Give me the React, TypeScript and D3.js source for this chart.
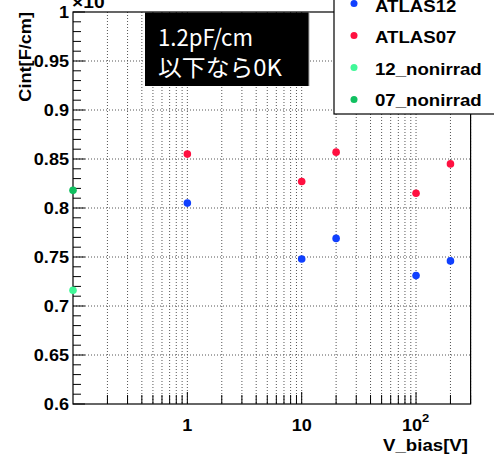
import React from "react";
import * as d3 from "d3";

const voltages = [1, 10, 20, 100, 200];
const atlas12 = [0.805, 0.748, 0.769, 0.731, 0.746];
const atlas07 = [0.855, 0.827, 0.857, 0.815, 0.845];
const nonirradV = [0.1];
const nonirrad12 = [0.716];
const nonirrad07 = [0.818];

const seriesNames = ["ATLAS12", "ATLAS07", "12_nonirrad", "07_nonirrad"];
const seriesColors = ["#1040ff", "#ff1040", "#40f898", "#10c060"];
const yTickLabels = ["0.6", "0.65", "0.7", "0.75", "0.8", "0.85", "0.9", "0.95", "1"];

const W = 494, H = 455;
const L = 73, R = 470.6, T = 12, B = 404;

const bold = { fontFamily: "Liberation Sans, Arial, sans-serif", fontWeight: 700 } as const;

function BT(props: { x: number; y: number; size: number; anchor?: string; fill?: string; children: React.ReactNode; sx?: number }) {
  const { x, y, size, anchor = "start", fill = "#000", children, sx = 1.13 } = props;
  return (
    <text transform={`translate(${x},${y}) scale(${sx},1)`} textAnchor={anchor as any} fontSize={size} fill={fill} style={bold}>
      {children}
    </text>
  );
}

export default function App() {
  const x = d3.scaleLog().domain([0.1, 300]).range([L, R]);
  const y = d3.scaleLinear().domain([0.6, 1]).range([B, T]);

  const xTicks: number[] = [];
  for (const dec of [0.1, 1, 10, 100]) {
    for (let k = 1; k <= 9; k++) {
      const v = dec * k;
      if (v > 0.1 && v <= 300) xTicks.push(v);
    }
  }
  const majorX = [1, 10, 100];
  const yMinor = d3.range(60, 101).map((v) => v / 100);
  const yMajor = yTickLabels.map(Number);

  const series = [
    { xs: voltages, ys: atlas12 },
    { xs: voltages, ys: atlas07 },
    { xs: nonirradV, ys: nonirrad12 },
    { xs: nonirradV, ys: nonirrad07 },
  ];

  return (
    <svg width={W} height={H} style={{ position: "absolute", left: 0, top: 0, background: "#fff" }}>
      <rect x={0} y={0} width={W} height={H} fill="#fff" />
      {/* grid */}
      {xTicks.map((v, i) => (
        <line key={"gx" + i} x1={x(v)} x2={x(v)} y1={T} y2={B} stroke="#555" strokeWidth={1} strokeDasharray="1,2" />
      ))}
      {yMajor.slice(1, -1).map((v, i) => (
        <line key={"gy" + i} x1={L} x2={R} y1={y(v)} y2={y(v)} stroke="#555" strokeWidth={1} strokeDasharray="1,2" />
      ))}
      {/* frame */}
      <rect x={L} y={T} width={R - L} height={B - T} fill="none" stroke="#000" strokeWidth={1.2} />
      {/* x ticks */}
      {xTicks.map((v, i) => {
        const major = majorX.includes(v);
        return (
          <line key={"tx" + i} x1={x(v)} x2={x(v)} y1={B} y2={B - (major ? 12 : 9)} stroke="#000" strokeWidth={1} />
        );
      })}
      {/* y ticks */}
      {yMinor.map((v, i) => {
        const major = Math.round(v * 100) % 5 === 0;
        return (
          <line key={"ty" + i} x1={L} x2={L + (major ? 12 : 8)} y1={y(v)} y2={y(v)} stroke="#000" strokeWidth={1} />
        );
      })}
      {/* y labels */}
      {yTickLabels.map((t, i) => (
        <BT key={"yl" + i} x={69} y={t === "1" ? 18 : y(Number(t)) + 6} size={16} anchor="end">
          {t}
        </BT>
      ))}
      {/* x labels */}
      <BT x={x(1)} y={431} size={16} anchor="middle">1</BT>
      <BT x={x(10)} y={431} size={16} anchor="middle">10</BT>
      <BT x={x(100) - 4} y={431} size={16} anchor="middle">10</BT>
      <BT x={x(100) + 6} y={422} size={11.5} anchor="start">2</BT>
      <BT x={468} y={451} size={16.5} anchor="end">V_bias[V]</BT>
      <text transform="translate(31,12) rotate(-90) scale(1.1,1)" textAnchor="end" fontSize={16.5} style={bold}>Cint[F/cm]</text>
      <BT x={72} y={8} size={17}>×10</BT>
      <BT x={106} y={-1} size={11} fill="#999">−12</BT>
      {/* data */}
      {series.map((s, si) =>
        s.xs.map((xv, i) => (
          <circle key={"p" + si + "_" + i} cx={x(xv)} cy={y(s.ys[i])} r={3.8} fill={seriesColors[si]} />
        ))
      )}
      {/* text box */}
      <rect x={145} y={12.5} width={164} height={73.5} fill="#000" />
      <line x1={309} x2={309} y1={12.5} y2={86} stroke="#aaa" strokeWidth={1} />
      <text x={158} y={46} fill="#fff" fontSize={23} textLength={95} lengthAdjust="spacingAndGlyphs" style={{ fontFamily: "Noto Sans CJK JP" }}>1.2pF/cm</text>
      <text x={158} y={76} fill="#fff" fontSize={23} textLength={124} lengthAdjust="spacingAndGlyphs" style={{ fontFamily: "Noto Sans CJK JP" }}>以下なら0K</text>
      {/* legend */}
      <rect x={334} y={-10} width={200} height={124} fill="#fff" stroke="#000" strokeWidth={1.2} />
      {seriesNames.map((n, i) => (
        <g key={"lg" + i}>
          <circle cx={354} cy={3.5 + i * 32} r={3.5} fill={seriesColors[i]} />
          <BT x={375} y={11.5 + i * 31.5} size={16.5}>{n}</BT>
        </g>
      ))}
    </svg>
  );
}
